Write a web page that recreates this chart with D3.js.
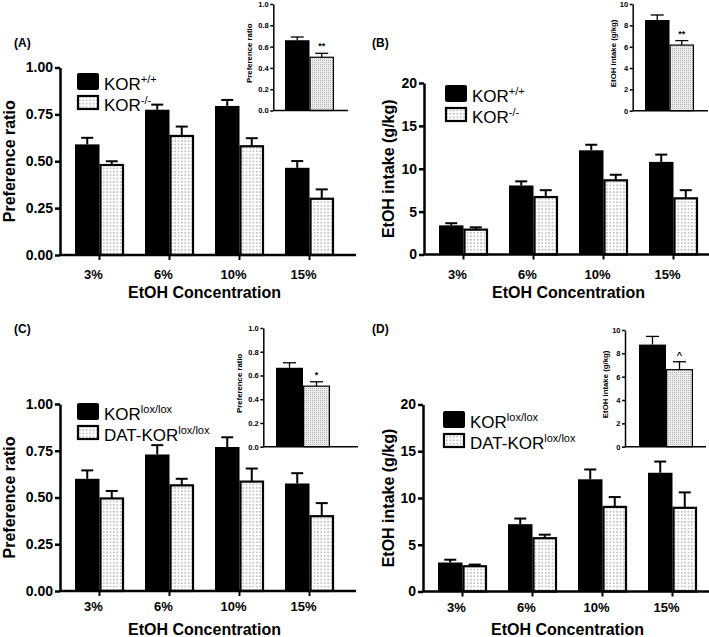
<!DOCTYPE html>
<html>
<head>
<meta charset="utf-8">
<script src="https://cdn.jsdelivr.net/npm/d3@7"></script>
<style>
  html, body { margin: 0; padding: 0; background: #fff; }
  svg { display: block; }
  text { font-family: Arial, "Liberation Sans", Helvetica, sans-serif; }
</style>
</head>
<body>
<svg id="chart" width="709" height="637"></svg>
<script>
// ---------------- DATA ----------------
const categories = ["3%", "6%", "10%", "15%"];
const xTitle = "EtOH Concentration";

// Panel A: preference ratio, KOR+/+ vs KOR-/-
const prefWT = [0.59, 0.775, 0.795, 0.465];
const prefWTsem = [0.035, 0.027, 0.032, 0.036];
const prefKO = [0.48, 0.635, 0.58, 0.30];
const prefKOsem = [0.02, 0.05, 0.043, 0.05];

// Panel B: EtOH intake (g/kg), KOR+/+ vs KOR-/-
const intakeWT = [3.4, 8.05, 12.15, 10.8];
const intakeWTsem = [0.25, 0.48, 0.65, 0.85];
const intakeKO = [2.9, 6.7, 8.65, 6.55];
const intakeKOsem = [0.27, 0.8, 0.65, 0.95];

// Panel C: preference ratio, KORlox/lox vs DAT-KORlox/lox
const prefLox = [0.60, 0.73, 0.77, 0.575];
const prefLoxSem = [0.045, 0.05, 0.052, 0.055];
const prefDAT = [0.495, 0.565, 0.585, 0.40];
const prefDATsem = [0.04, 0.035, 0.07, 0.07];

// Panel D: EtOH intake (g/kg), KORlox/lox vs DAT-KORlox/lox
const intakeLox = [3.1, 7.2, 12.0, 12.7];
const intakeLoxSem = [0.3, 0.6, 1.05, 1.2];
const intakeDAT = [2.7, 5.7, 9.05, 8.95];
const intakeDATsem = [0.18, 0.38, 1.05, 1.65];

// Insets (averaged over concentrations)
const insetGroups = ["control", "knockout"];
const insetA = [0.66, 0.50],  insetAsem = [0.03, 0.037];
const insetB = [8.5, 6.15],   insetBsem = [0.47, 0.42];
const insetC = [0.665, 0.51], insetCsem = [0.042, 0.037];
const insetD = [8.75, 6.6],   insetDsem = [0.7, 0.68];
const insetMarks = ["**", "**", "*", "^"];

const prefTicks = [0, 0.25, 0.5, 0.75, 1.0];
const intakeTicks = [0, 5, 10, 15, 20];
const insetPrefTicks = [0, 0.2, 0.4, 0.6, 0.8, 1.0];
const insetIntakeTicks = [0, 2, 4, 6, 8, 10];

const panelLabels = ["(A)", "(B)", "(C)", "(D)"];
const legendKOR = [["KOR", "+/+"], ["KOR", "-/-"]];
const legendLox = [["KOR", "lox/lox"], ["DAT-KOR", "lox/lox"]];
const prefLabel = "Preference ratio";
const intakeLabel = "EtOH intake (g/kg)";

// ---------------- DRAW ----------------
const svg = d3.select("#chart");
const defs = svg.append("defs");

// dotted fill for main bars
const pat = defs.append("pattern").attr("id", "dots").attr("patternUnits", "userSpaceOnUse")
  .attr("width", 3.4).attr("height", 3.4);
pat.append("rect").attr("width", 3.4).attr("height", 3.4).attr("fill", "#fff");
pat.append("rect").attr("x", 1.2).attr("y", 1.2).attr("width", 1).attr("height", 1).attr("fill", "#555");

// fine stipple for insets
const pat2 = defs.append("pattern").attr("id", "stipple").attr("patternUnits", "userSpaceOnUse")
  .attr("width", 2).attr("height", 2);
pat2.append("rect").attr("width", 2).attr("height", 2).attr("fill", "#ececec");
pat2.append("rect").attr("x", 0).attr("y", 0).attr("width", 1).attr("height", 1).attr("fill", "#b5b5b5");

const panels = [
  { label: panelLabels[0], lx: 14, ly: 47, x0: 60, xEnd: 356, yTop: 67.5, yBot: 255, domain: [0, 1], ticks: prefTicks, fmt: d3.format(".2f"),
    a: prefWT, aS: prefWTsem, b: prefKO, bS: prefKOsem, ytitle: prefLabel, ytx: 15, labOff: 10, titleY: 297.5,
    legend: legendKOR, legX: 104, legY: 90,
    inset: { x0: 273.3, xEnd: 348, yTop: 4, yBot: 110.5, barX: 285, bw: 24.5, domain: [0, 1], ticks: insetPrefTicks, fmt: d3.format(".1f"),
             v: insetA, s: insetAsem, mark: insetMarks[0], title: prefLabel } },
  { label: panelLabels[1], lx: 372, ly: 47, x0: 424, xEnd: 709, yTop: 83, yBot: 254.5, domain: [0, 20], ticks: intakeTicks, fmt: d3.format("d"),
    a: intakeWT, aS: intakeWTsem, b: intakeKO, bS: intakeKOsem, ytitle: intakeLabel, ytx: 394, labOff: 10, titleY: 297.5,
    legend: legendKOR, legX: 472, legY: 102,
    inset: { x0: 632.7, xEnd: 708, yTop: 4, yBot: 110.7, barX: 645, bw: 24.5, domain: [0, 10], ticks: insetIntakeTicks, fmt: d3.format("d"),
             v: insetB, s: insetBsem, mark: insetMarks[1], title: intakeLabel } },
  { label: panelLabels[2], lx: 14, ly: 333, x0: 60, xEnd: 356, yTop: 404, yBot: 591, domain: [0, 1], ticks: prefTicks, fmt: d3.format(".2f"),
    a: prefLox, aS: prefLoxSem, b: prefDAT, bS: prefDATsem, ytitle: prefLabel, ytx: 15, labOff: 6, titleY: 634.5,
    legend: legendLox, legX: 104, legY: 420,
    inset: { x0: 263.3, xEnd: 358, yTop: 328, yBot: 446.7, barX: 276, bw: 27, domain: [0, 1], ticks: insetPrefTicks, fmt: d3.format(".1f"),
             v: insetC, s: insetCsem, mark: insetMarks[2], title: prefLabel } },
  { label: panelLabels[3], lx: 372, ly: 333, x0: 423, xEnd: 709, yTop: 404.5, yBot: 591.5, domain: [0, 20], ticks: intakeTicks, fmt: d3.format("d"),
    a: intakeLox, aS: intakeLoxSem, b: intakeDAT, bS: intakeDATsem, ytitle: intakeLabel, ytx: 394, labOff: 6, titleY: 634.5,
    legend: legendLox, legX: 470, legY: 428,
    inset: { x0: 625, xEnd: 706, yTop: 330, yBot: 446.7, barX: 639, bw: 27, domain: [0, 10], ticks: insetIntakeTicks, fmt: d3.format("d"),
             v: insetD, s: insetDsem, mark: insetMarks[3], title: intakeLabel } }
];

function drawErr(g, cx, yTopVal, yErrVal, capW) {
  g.append("line").attr("x1", cx).attr("x2", cx).attr("y1", yTopVal).attr("y2", yErrVal)
    .attr("stroke", "#000").attr("stroke-width", 2);
  g.append("line").attr("x1", cx - capW / 2).attr("x2", cx + capW / 2).attr("y1", yErrVal).attr("y2", yErrVal)
    .attr("stroke", "#000").attr("stroke-width", 2);
}

panels.forEach(p => {
  const g = svg.append("g");

  // panel label
  g.append("text").attr("x", p.lx).attr("y", p.ly).attr("font-size", 12).attr("font-weight", "bold").text(p.label);

  const y = d3.scaleLinear().domain(p.domain).range([p.yBot, p.yTop]);
  const x = d3.scaleBand().domain(categories).range([p.x0 + 4.5, p.x0 + 284.5]).paddingInner(0.3).paddingOuter(0.15);
  const xs = d3.scaleBand().domain(["a", "b"]).range([0, x.bandwidth()]);

  // bars
  categories.forEach((c, i) => {
    const bx = x(c);
    // black bar
    g.append("rect").attr("x", bx + xs("a")).attr("y", y(p.a[i])).attr("width", xs.bandwidth())
      .attr("height", y(0) - y(p.a[i])).attr("fill", "#000");
    drawErr(g, bx + xs("a") + xs.bandwidth() / 2, y(p.a[i]), y(p.a[i] + p.aS[i]), 12);
    // dotted bar
    g.append("rect").attr("x", bx + xs("b") + 1).attr("y", y(p.b[i])).attr("width", xs.bandwidth() - 2)
      .attr("height", y(0) - y(p.b[i])).attr("fill", "url(#dots)").attr("stroke", "#000").attr("stroke-width", 2.2);
    drawErr(g, bx + xs("b") + xs.bandwidth() / 2, y(p.b[i]), y(p.b[i] + p.bS[i]), 12);
  });

  // y axis
  const ya = g.append("g").attr("transform", `translate(${p.x0},0)`)
    .call(d3.axisLeft(y).tickValues(p.ticks).tickFormat(p.fmt).tickSize(5).tickSizeOuter(0).tickPadding(2));
  ya.select(".domain").attr("stroke-width", 2.5);
  ya.selectAll(".tick line").attr("stroke-width", 2.5);
  ya.selectAll(".tick text").attr("font-size", 14).attr("font-weight", "bold").attr("font-family", "Arial, 'Liberation Sans', sans-serif").attr("fill", "#000");

  // x axis
  const xa = g.append("g").attr("transform", `translate(0,${p.yBot})`)
    .call(d3.axisBottom(x).tickSize(5).tickSizeOuter(0).tickPadding(p.labOff));
  xa.select(".domain").attr("d", `M${p.x0},0H${p.xEnd}`).attr("stroke-width", 2.5);
  xa.selectAll(".tick line").attr("stroke-width", 2);
  xa.selectAll(".tick text").attr("font-size", 13).attr("font-weight", "bold").attr("dx", -6)
    .attr("font-family", "Arial, 'Liberation Sans', sans-serif").attr("fill", "#000");

  // axis titles
  g.append("text").attr("x", (x.range()[0] + x.range()[1]) / 2).attr("y", p.titleY)
    .attr("text-anchor", "middle").attr("font-size", 16).attr("font-weight", "bold").text(xTitle);
  g.append("text").attr("transform", `translate(${p.ytx},${(p.yTop + p.yBot) / 2}) rotate(-90)`)
    .attr("text-anchor", "middle").attr("font-size", 16).attr("font-weight", "bold").text(p.ytitle);

  // legend
  p.legend.forEach((item, k) => {
    const by = p.legY + k * 21;
    if (k === 0) {
      g.append("rect").attr("x", p.legX - 27).attr("y", by - 17).attr("width", 22).attr("height", 17)
        .attr("rx", 2).attr("fill", "#000");
    } else {
      g.append("rect").attr("x", p.legX - 26).attr("y", by - 15).attr("width", 20).attr("height", 13)
        .attr("fill", "url(#dots)").attr("stroke", "#000").attr("stroke-width", 2.2);
    }
    const t = g.append("text").attr("x", p.legX).attr("y", by).attr("font-size", 17);
    t.append("tspan").text(item[0]);
    t.append("tspan").attr("font-size", 11).attr("dy", -7).text(item[1]);
  });

  // inset
  const q = p.inset;
  const gi = svg.append("g");
  const yi = d3.scaleLinear().domain(q.domain).range([q.yBot, q.yTop]);
  const xi = d3.scaleBand().domain(insetGroups).range([q.barX, q.barX + 2 * q.bw]);
  // bars
  gi.append("rect").attr("x", xi(insetGroups[0])).attr("y", yi(q.v[0])).attr("width", xi.bandwidth())
    .attr("height", yi(0) - yi(q.v[0])).attr("fill", "#000");
  drawErrI(gi, xi(insetGroups[0]) + xi.bandwidth() / 2, yi(q.v[0]), yi(q.v[0] + q.s[0]));
  gi.append("rect").attr("x", xi(insetGroups[1]) + 0.6).attr("y", yi(q.v[1])).attr("width", xi.bandwidth() - 1.2)
    .attr("height", yi(0) - yi(q.v[1])).attr("fill", "url(#stipple)").attr("stroke", "#000").attr("stroke-width", 1.2);
  drawErrI(gi, xi(insetGroups[1]) + xi.bandwidth() / 2, yi(q.v[1]), yi(q.v[1] + q.s[1]));
  gi.append("text").attr("x", xi(insetGroups[1]) + xi.bandwidth() / 2).attr("y", yi(q.v[1] + q.s[1]) - 4)
    .attr("text-anchor", "middle").attr("font-size", 9).attr("font-weight", "bold").text(q.mark);

  const yia = gi.append("g").attr("transform", `translate(${q.x0},0)`)
    .call(d3.axisLeft(yi).tickValues(q.ticks).tickFormat(q.fmt).tickSize(3).tickSizeOuter(0).tickPadding(1.5));
  yia.select(".domain").attr("stroke-width", 1.5);
  yia.selectAll(".tick line").attr("stroke-width", 1.5);
  yia.selectAll(".tick text").attr("font-size", 7.5).attr("font-weight", "bold")
    .attr("font-family", "Arial, 'Liberation Sans', sans-serif").attr("fill", "#000");
  gi.append("line").attr("x1", q.x0).attr("x2", q.xEnd).attr("y1", yi(0)).attr("y2", yi(0))
    .attr("stroke", "#000").attr("stroke-width", 1.5);
  const off = q.domain[1] === 1 ? 24 : 20;
  gi.append("text").attr("transform", `translate(${q.x0 - off + 2.8},${(q.yTop + q.yBot) / 2 - 4}) rotate(-90)`)
    .attr("text-anchor", "middle").attr("font-size", 7.8).attr("font-weight", "bold").text(q.title);
});

function drawErrI(g, cx, yTopVal, yErrVal) {
  g.append("line").attr("x1", cx).attr("x2", cx).attr("y1", yTopVal).attr("y2", yErrVal)
    .attr("stroke", "#000").attr("stroke-width", 1.3);
  g.append("line").attr("x1", cx - 6.5).attr("x2", cx + 6.5).attr("y1", yErrVal).attr("y2", yErrVal)
    .attr("stroke", "#000").attr("stroke-width", 1.3);
}
</script>
</body>
</html>
